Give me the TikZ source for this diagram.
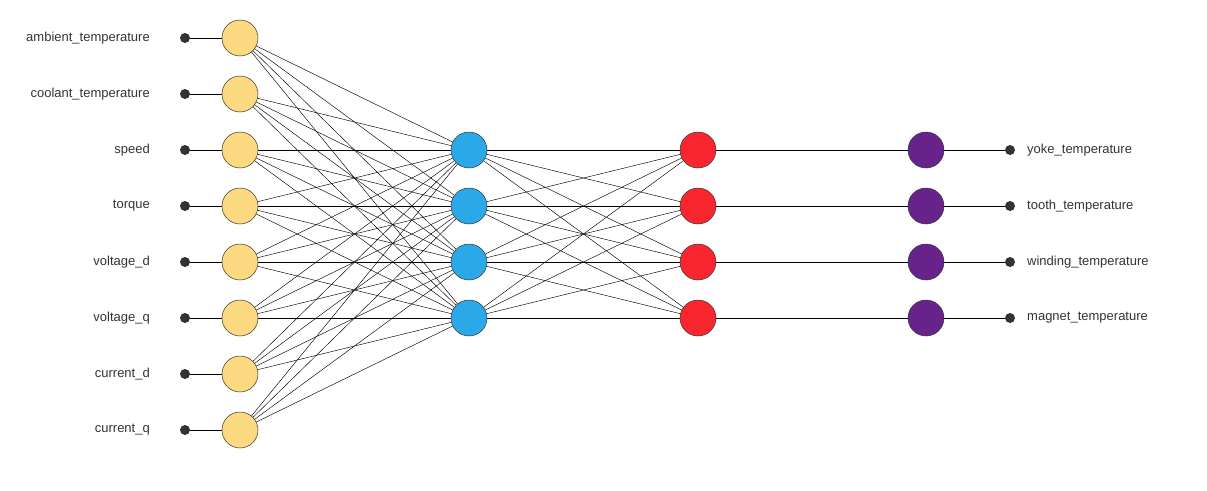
\documentclass[tikz,border=0pt]{standalone}
\usepackage{fontspec}
\setmainfont{Liberation Sans}
\usetikzlibrary{backgrounds}
\definecolor{cin}{HTML}{FDD982}
\definecolor{ch1}{HTML}{2AA8E8}
\definecolor{ch2}{HTML}{F8272E}
\definecolor{cout}{HTML}{68228B}
\definecolor{txt}{HTML}{333333}
\begin{document}
\begin{tikzpicture}[x=1pt,y=-1pt,
  neuron/.style={circle,draw=black!80,line width=0.5pt,minimum size=36pt,inner sep=0pt},
  dot/.style={circle,fill=txt,minimum size=10pt,inner sep=0pt},
  lab/.style={font=\fontsize{13}{15}\selectfont,text=txt,inner sep=0pt},
  edge/.style={line width=0.45pt,black}]
\useasboundingbox (0,0) rectangle (1207,490);
\foreach \t [count=\i] in {ambient\_temperature,coolant\_temperature,speed,torque,voltage\_d,voltage\_q,current\_d,current\_q}{
  \pgfmathsetmacro\yy{38+56*(\i-1)}
  \node[neuron,fill=cin] (i\i) at (240,\yy) {};
  \node[dot] (di\i) at (185,\yy) {};
  \node[lab,anchor=east] (li\i) at (150,\yy) {\t};
  \begin{scope}[on background layer]\draw[edge] (di\i) -- (i\i);\end{scope}
}
\foreach \t [count=\j] in {yoke\_temperature,tooth\_temperature,winding\_temperature,magnet\_temperature}{
  \pgfmathsetmacro\yy{150+56*(\j-1)}
  \node[neuron,fill=ch1] (h\j) at (469,\yy) {};
  \node[neuron,fill=ch2] (g\j) at (698,\yy) {};
  \node[neuron,fill=cout] (o\j) at (926,\yy) {};
  \node[dot] (do\j) at (1010,\yy) {};
  \node[lab,anchor=west] (lo\j) at (1027,\yy) {\t};
}
\begin{scope}[on background layer]
\foreach \i in {1,...,8}{\foreach \j in {1,...,4}{\draw[edge] (i\i.center) -- (h\j.center);}}
\foreach \i in {1,...,4}{\foreach \j in {1,...,4}{\draw[edge] (h\i.center) -- (g\j.center);}}
\foreach \j in {1,...,4}{\draw[edge] (g\j.center) -- (o\j.center); \draw[edge] (o\j) -- (do\j);}
\end{scope}
\end{tikzpicture}
\end{document}
